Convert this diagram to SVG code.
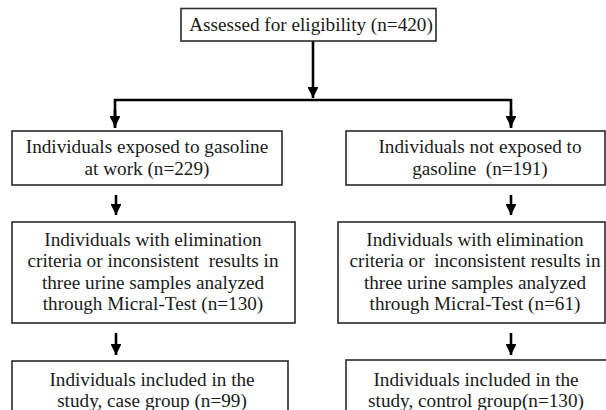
<svg xmlns="http://www.w3.org/2000/svg" width="606" height="410" viewBox="0 0 606 410">
<defs>
<marker id="ah" viewBox="0 0 10 10" refX="10" refY="5" markerWidth="4.2" markerHeight="4.2" orient="auto" markerUnits="strokeWidth">
<path d="M0,0 L10,5 L0,10 z" fill="#000"/>
</marker>
<style>
.box{fill:#fff;stroke:#2a2a2a;stroke-width:1.6}
.t{font-family:"Liberation Serif","Times New Roman",serif;font-size:19.2px;fill:#1a1a1a;text-anchor:middle;white-space:pre}
.c{fill:none;stroke:#000;stroke-width:2.6}
</style>
</defs>
<rect width="606" height="410" fill="#fff"/>
<g id="connectors">
<path class="c" d="M313,41 V98" marker-end="url(#ah)"/>
<path class="c" d="M115,128 V100 H511 V128" />
<path class="c" d="M115,110 V127" marker-end="url(#ah)"/>
<path class="c" d="M511,110 V127" marker-end="url(#ah)"/>
<path class="c" d="M116,195 V215" marker-end="url(#ah)"/>
<path class="c" d="M511,195 V215" marker-end="url(#ah)"/>
<path class="c" d="M116,333 V355" marker-end="url(#ah)"/>
<path class="c" d="M511,333 V355" marker-end="url(#ah)"/>
</g>
<g id="n1">
<rect class="box" x="181" y="8.5" width="255" height="32.5"/>
<text class="t" x="311" y="31">Assessed for eligibility (n=420)</text>
</g>
<g id="n2">
<rect class="box" x="12" y="131" width="270" height="54"/>
<text class="t" x="147" y="153">Individuals exposed to gasoline</text>
<text class="t" x="147" y="175">at work (n=229)</text>
</g>
<g id="n3">
<rect class="box" x="346" y="131" width="259" height="54"/>
<text class="t" x="480" y="153">Individuals not exposed to</text>
<text class="t" x="480" y="175">gasoline  (n=191)</text>
</g>
<g id="n4">
<rect class="box" x="12" y="222" width="283" height="101"/>
<text class="t" x="153" y="246">Individuals with elimination</text>
<text class="t" x="153" y="267">criteria or inconsistent  results in</text>
<text class="t" x="153" y="289">three urine samples analyzed</text>
<text class="t" x="153" y="310">through Micral-Test (n=130)</text>
</g>
<g id="n5">
<rect class="box" x="338" y="222" width="267" height="101"/>
<text class="t" x="475" y="246">Individuals with elimination</text>
<text class="t" x="475" y="267">criteria or  inconsistent results in</text>
<text class="t" x="475" y="289">three urine samples analyzed</text>
<text class="t" x="475" y="310">through Micral-Test (n=61)</text>
</g>
<g id="n6">
<rect class="box" x="12" y="361" width="276" height="60"/>
<text class="t" x="152" y="386">Individuals included in the</text>
<text class="t" x="152" y="407">study, case group (n=99)</text>
</g>
<g id="n7">
<rect class="box" x="346" y="360" width="262" height="60"/>
<text class="t" x="476" y="386">Individuals included in the</text>
<text class="t" x="476" y="407">study, control group(n=130)</text>
</g>
</svg>
